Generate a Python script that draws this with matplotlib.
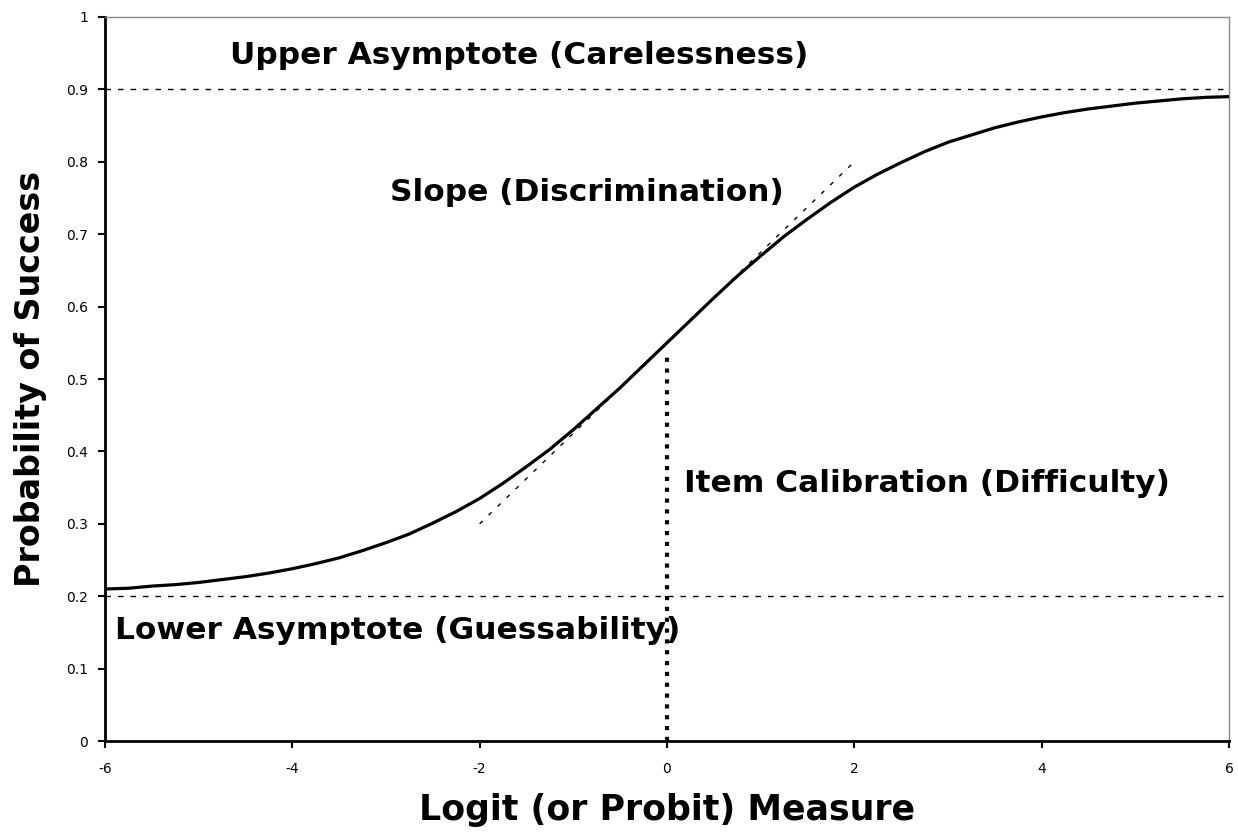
import matplotlib

matplotlib.use("Agg")
import matplotlib.pyplot as plt

# ── data ───────────────────────────────────────────────────────────────────
theta = [-6.0, -5.75, -5.5, -5.25, -5.0, -4.75, -4.5, -4.25, -4.0, -3.75, -3.5,
         -3.25, -3.0, -2.75, -2.5, -2.25, -2.0, -1.75, -1.5, -1.25, -1.0, -0.75,
         -0.5, -0.25, 0.0, 0.25, 0.5, 0.75, 1.0, 1.25, 1.5, 1.75, 2.0, 2.25, 2.5,
         2.75, 3.0, 3.25, 3.5, 3.75, 4.0, 4.25, 4.5, 4.75, 5.0, 5.25, 5.5, 5.75, 6.0]
prob = [0.210, 0.211, 0.214, 0.216, 0.219, 0.223, 0.227, 0.232, 0.238, 0.245, 0.253,
        0.263, 0.274, 0.286, 0.301, 0.317, 0.335, 0.356, 0.379, 0.403, 0.430, 0.459,
        0.488, 0.519, 0.550, 0.581, 0.612, 0.642, 0.670, 0.697, 0.721, 0.744, 0.765,
        0.783, 0.799, 0.814, 0.827, 0.837, 0.847, 0.855, 0.862, 0.868, 0.873, 0.877,
        0.881, 0.884, 0.887, 0.889, 0.890]

upper_asymptote = 0.9
lower_asymptote = 0.2
slope_x = [-2, 2]
slope_y = [0.3, 0.8]
difficulty_x = 0.0
difficulty_top = 0.53

x_ticks = [-6, -4, -2, 0, 2, 4, 6]
y_ticks = [0, 0.1, 0.2, 0.3, 0.4, 0.5, 0.6, 0.7, 0.8, 0.9, 1]
y_tick_labels = ["0", "0.1", "0.2", "0.3", "0.4", "0.5", "0.6", "0.7", "0.8", "0.9", "1"]

plt.rcParams["font.family"] = ["DejaVu Sans"]

fig = plt.figure(figsize=(12.38, 8.33), dpi=100)
ax = fig.add_axes([0.0848, 0.1104, 0.9079, 0.8692])

ax.plot(theta, prob, color="black", lw=2.3, solid_joinstyle="round", zorder=3)
ax.axhline(upper_asymptote, color="black", lw=1.0, ls=(0, (4, 5)))
ax.axhline(lower_asymptote, color="black", lw=1.0, ls=(0, (4, 5)))
ax.plot(slope_x, slope_y, color="black", lw=1.0, ls=(0, (3, 6)), zorder=2)
ax.plot([difficulty_x, difficulty_x], [0, difficulty_top], color="black",
        lw=3.0, ls=(0, (1, 1.6)), dash_capstyle="butt", zorder=2)

txt = dict(fontsize=22.5, fontweight="bold", color="black", va="center", ha="left")
ax.text(-4.66, 0.947, "Upper Asymptote (Carelessness)", **txt)
ax.text(-2.96, 0.758, "Slope (Discrimination)", **txt)
ax.text(0.18, 0.356, "Item Calibration (Difficulty)", **txt)
ax.text(-5.89, 0.153, "Lower Asymptote (Guessability)", **txt)

ax.set_xlim(-6, 6)
ax.set_ylim(0, 1)
ax.set_xticks(x_ticks)
ax.set_xticklabels([str(t) for t in x_ticks])
ax.set_yticks(y_ticks)
ax.set_yticklabels(y_tick_labels)
ax.tick_params(axis="both", labelsize=10, length=5, width=1.5, direction="out")
ax.tick_params(axis="x", pad=10)
ax.tick_params(axis="y", pad=7)

for side in ("left", "bottom"):
    ax.spines[side].set_linewidth(2.0)
    ax.spines[side].set_color("black")
for side in ("top", "right"):
    ax.spines[side].set_linewidth(1.0)
    ax.spines[side].set_color("#888888")

ax.set_xlabel("Logit (or Probit) Measure", fontsize=25, fontweight="bold", labelpad=12)
ax.set_ylabel("Probability of Success", fontsize=24, fontweight="bold", labelpad=14)

fig.savefig("out.png", dpi=100)
